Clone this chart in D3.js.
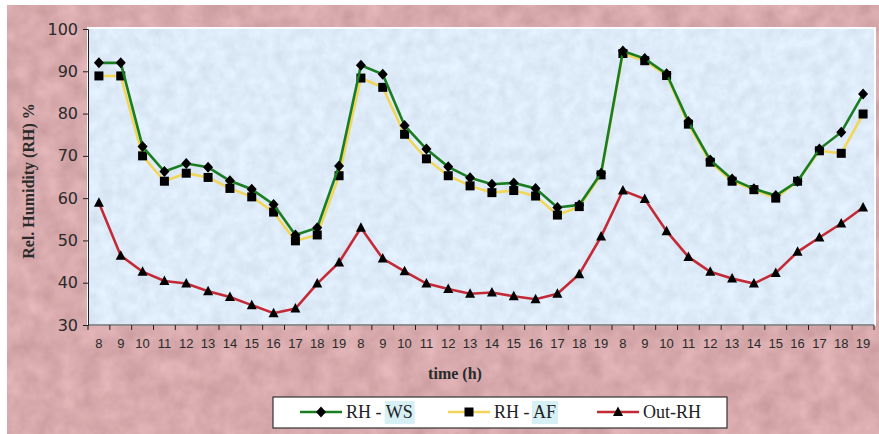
<!DOCTYPE html>
<html>
<head>
<meta charset="utf-8">
<script src="https://cdn.jsdelivr.net/npm/d3@7"></script>
<style>
  body { margin: 0; background: #fff; }
  svg { display: block; }
</style>
</head>
<body>
<svg id="chart" width="879" height="434"></svg>
<script>
const hours = [8, 9, 10, 11, 12, 13, 14, 15, 16, 17, 18, 19];
const days = [1, 2, 3];
const yTicks = [30, 40, 50, 60, 70, 80, 90, 100];

const rhWS = [92, 92, 72.2, 66.3, 68.2, 67.3, 64.1, 62.1, 58.5, 51.3, 53, 67.6,
              91.4, 89.3, 77.2, 71.6, 67.4, 64.8, 63.3, 63.6, 62.3, 57.8, 58.4, 65.9,
              94.8, 93, 89.4, 78.1, 69, 64.5, 62.2, 60.6, 64, 71.6, 75.6, 84.6];
const rhAF = [88.9, 88.9, 70, 64, 65.9, 64.9, 62.3, 60.3, 56.7, 49.9, 51.3, 65.3,
              88.4, 86.2, 75.1, 69.3, 65.3, 62.9, 61.3, 61.8, 60.5, 56, 58, 65.5,
              94.2, 92.5, 89, 77.5, 68.5, 64, 62, 60, 64, 71.2, 70.6, 79.9];
const outRH = [58.9, 46.4, 42.6, 40.4, 39.8, 38, 36.6, 34.7, 32.8, 33.9, 39.8, 44.8,
               53, 45.7, 42.7, 39.8, 38.5, 37.4, 37.7, 36.8, 36.1, 37.4, 42, 50.9,
               61.8, 59.8, 52.2, 46.1, 42.6, 41, 39.8, 42.3, 47.3, 50.7, 54, 57.8];

const seriesNames = ['RH - WS', 'RH - AF', 'Out-RH'];

// category keys: day + hour so every slot is unique
const cats = [];
days.forEach(d => hours.forEach(h => cats.push(d + '-' + h)));

const series = [
  { name: seriesNames[0], values: rhWS, color: '#1b7d22', marker: 'diamond' },
  { name: seriesNames[1], values: rhAF, color: '#f2d65a', marker: 'square' },
  { name: seriesNames[2], values: outRH, color: '#c42a36', marker: 'triangle' }
];

const svg = d3.select('#chart');
const W = +svg.attr('width'), H = +svg.attr('height');
const plot = { left: 88, top: 29, right: 874, bottom: 325 };

// soft mottled textures (noise mapped around a base colour)
const defs = svg.append('defs');
function texture(id, freq, seed, base, k) {
  const f = defs.append('filter').attr('id', id)
    .attr('color-interpolation-filters', 'sRGB')
    .attr('x', 0).attr('y', 0).attr('width', 1).attr('height', 1);
  f.append('feTurbulence').attr('type', 'fractalNoise')
    .attr('baseFrequency', freq).attr('numOctaves', 3).attr('seed', seed).attr('result', 'n');
  const row = b => `${k} 0 0 0 ${b - k * 0.5}`;
  f.append('feColorMatrix').attr('in', 'n').attr('type', 'matrix')
    .attr('values', `${row(base[0])}  ${row(base[1])}  ${row(base[2])}  0 0 0 0 1`)
    .attr('result', 'c');
  f.append('feComposite').attr('in', 'c').attr('in2', 'SourceGraphic').attr('operator', 'in');
}
texture('pinkTex', 0.05, 4, [0.845, 0.665, 0.675], 0.15);
texture('blueTex', 0.08, 9, [0.87, 0.92, 0.975], 0.1);

svg.append('rect').attr('x', 7).attr('y', 5).attr('width', W - 7).attr('height', H - 5)
  .attr('fill', '#d6a8aa').attr('filter', 'url(#pinkTex)');

svg.append('rect')
  .attr('x', plot.left).attr('y', plot.top)
  .attr('width', plot.right - plot.left).attr('height', plot.bottom - plot.top)
  .attr('fill', '#dbe8f7').attr('filter', 'url(#blueTex)');
svg.append('rect')
  .attr('x', plot.left).attr('y', plot.top - 1)
  .attr('width', plot.right - plot.left + 1).attr('height', plot.bottom - plot.top + 1)
  .attr('fill', 'none').attr('stroke', '#fbfcff').attr('stroke-width', 2);

const x = d3.scaleBand().domain(cats).range([plot.left, plot.right]);
const y = d3.scaleLinear().domain([30, 100]).range([plot.bottom, plot.top]);

// y axis
const yAxis = svg.append('g').attr('transform', `translate(${plot.left},0)`)
  .call(d3.axisLeft(y).tickValues(yTicks).tickSize(5).tickPadding(5));
yAxis.selectAll('text').attr('font-family', 'Tahoma, "DejaVu Sans", sans-serif')
  .attr('font-size', 16).attr('fill', '#2a2a2a');
yAxis.selectAll('line, path').attr('stroke', '#222');

// x axis: ticks between categories
const xAxis = svg.append('g').attr('transform', `translate(0,${plot.bottom})`)
  .call(d3.axisBottom(x).tickFormat(d => d.split('-')[1]).tickSize(0).tickPadding(14));
xAxis.select('path').attr('stroke', '#222').attr('d', `M${plot.left},0H${plot.right}`);
xAxis.selectAll('text').attr('font-family', 'Arial, "Liberation Sans", sans-serif')
  .attr('font-size', 13).attr('fill', '#2a2a2a');
xAxis.selectAll('.sep').data(d3.range(cats.length + 1)).join('line')
  .attr('class', 'sep')
  .attr('x1', i => plot.left + i * x.bandwidth()).attr('x2', i => plot.left + i * x.bandwidth())
  .attr('y1', 0).attr('y2', 5).attr('stroke', '#222');

// axis titles
svg.append('text').attr('x', 455).attr('y', 379).attr('text-anchor', 'middle')
  .attr('font-family', '"Liberation Serif", "Times New Roman", serif')
  .attr('font-weight', 'bold').attr('font-size', 16).attr('fill', '#2a2a2a')
  .text('time (h)');
svg.append('text').attr('transform', 'translate(34,181) rotate(-90)').attr('text-anchor', 'middle')
  .attr('font-family', '"Liberation Serif", "Times New Roman", serif')
  .attr('font-weight', 'bold').attr('font-size', 16).attr('fill', '#2a2a2a')
  .text('Rel. Humidity (RH) %');

function markerPath(type) {
  if (type === 'diamond') return 'M0,-5.5L5,0L0,5.5L-5,0Z';
  if (type === 'square') return 'M-4.5,-4.5H4.5V4.5H-4.5Z';
  return 'M0,-5.5L5,4L-5,4Z';
}

const line = d3.line()
  .x((d, i) => x(cats[i]) + x.bandwidth() / 2)
  .y(d => y(d));

// draw in reverse so WS ends on top
series.slice().reverse().forEach(s => {
  const g = svg.append('g');
  g.append('path').datum(s.values).attr('fill', 'none')
    .attr('stroke', s.color).attr('stroke-width', 2.6).attr('d', line);
  g.selectAll('path.m').data(s.values).join('path').attr('class', 'm')
    .attr('d', markerPath(s.marker))
    .attr('transform', (d, i) => `translate(${x(cats[i]) + x.bandwidth() / 2},${y(d)})`)
    .attr('fill', '#000');
});

// legend
const lg = svg.append('g');
lg.append('rect').attr('x', 273).attr('y', 397).attr('width', 454).attr('height', 31)
  .attr('fill', '#fff').attr('stroke', '#333').attr('stroke-width', 1.2);
const legX = [300, 448, 597];
series.forEach((s, i) => {
  const lx = legX[i], ly = 412;
  lg.append('line').attr('x1', lx).attr('x2', lx + 42).attr('y1', ly).attr('y2', ly)
    .attr('stroke', s.color).attr('stroke-width', 2.6);
  lg.append('path').attr('d', markerPath(s.marker))
    .attr('transform', `translate(${lx + 21},${ly})`).attr('fill', '#000');
  const t = lg.append('text').attr('x', lx + 46).attr('y', ly + 6)
    .attr('font-family', '"Liberation Serif", "Times New Roman", serif')
    .attr('font-size', 18).attr('fill', '#222');
  if (i < 2) {
    const parts = s.name.split(' - ');
    t.append('tspan').text(parts[0] + ' - ');
    const hl = t.append('tspan').text(parts[1]);
    const bb = hl.node().getBBox();
    lg.insert('rect', 'text').attr('x', bb.x - 1).attr('y', ly - 11)
      .attr('width', bb.width + 3).attr('height', 23).attr('fill', '#d6f0f5');
  } else {
    t.text(s.name);
  }
});
</script>
</body>
</html>
